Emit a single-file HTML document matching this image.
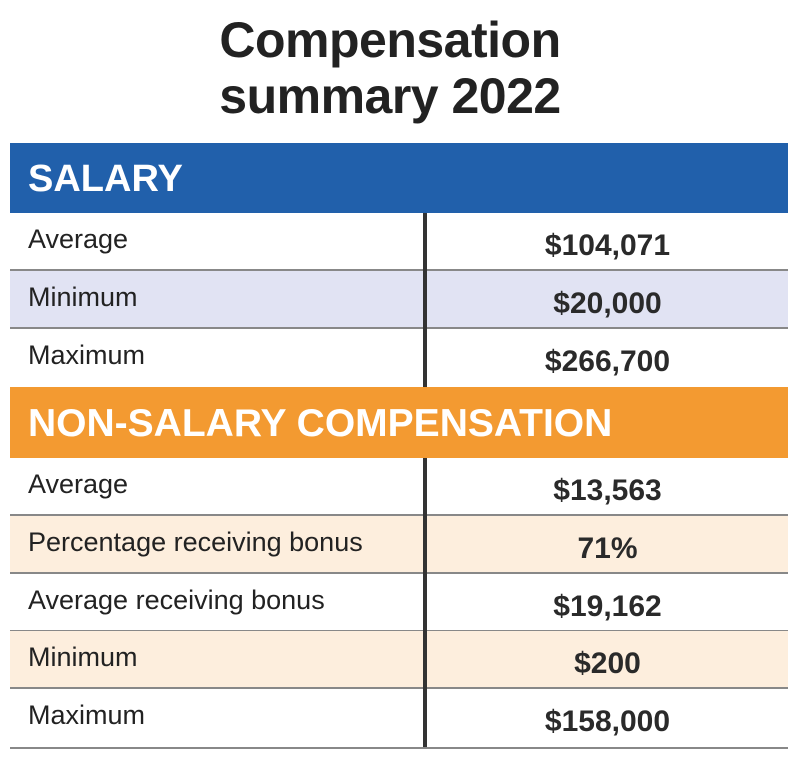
<!DOCTYPE html>
<html><head><meta charset="utf-8"><style>
body{margin:0;width:800px;height:758px;background:#fff;font-family:"Liberation Sans",Arial,sans-serif;position:relative;overflow:hidden;color:#222}
.t{position:absolute;left:0;width:780px;text-align:center;font-weight:bold;font-size:50px;color:#222;letter-spacing:-0.5px}
.hdr{position:absolute;left:10px;width:778px;color:#fff;font-weight:bold;font-size:38px;box-sizing:border-box;padding-left:18px}
.row{position:absolute;left:10px;width:778px;height:58px;border-bottom:2px solid #888;box-sizing:border-box}
.lab{position:absolute;left:18px;top:11px;font-size:27px;color:#222}
.val{position:absolute;left:417px;right:0;top:16px;text-align:center;font-size:30px;font-weight:bold;color:#2a2a2a}
.div{position:absolute;left:423px;width:4px;background:#333}
</style></head><body>
<div class="t" style="top:11px">Compensation</div>
<div class="t" style="top:67px">summary 2022</div>

<div class="hdr" style="top:143px;height:70px;line-height:72px;background:#2160ab">SALARY</div>
<div class="row" style="top:213px;background:#fff"><span class="lab">Average</span><span class="val">$104,071</span></div>
<div class="row" style="top:271px;background:#e1e3f3"><span class="lab">Minimum</span><span class="val">$20,000</span></div>
<div class="row" style="top:329px;background:#fff;border-bottom:none"><span class="lab">Maximum</span><span class="val">$266,700</span></div>
<div class="div" style="top:213px;height:174px"></div>

<div class="hdr" style="top:387px;height:71px;line-height:74px;font-size:39px;background:#f39a31">NON-SALARY COMPENSATION</div>
<div class="row" style="top:458px;background:#fff"><span class="lab">Average</span><span class="val">$13,563</span></div>
<div class="row" style="top:516px;background:#fdeedd"><span class="lab">Percentage receiving bonus</span><span class="val">71%</span></div>
<div class="row" style="top:574px;background:#fff"><span class="lab">Average receiving bonus</span><span class="val">$19,162</span></div>
<div class="row" style="top:631px;background:#fdeedd"><span class="lab">Minimum</span><span class="val">$200</span></div>
<div class="row" style="top:689px;background:#fff;height:60px"><span class="lab">Maximum</span><span class="val">$158,000</span></div>
<div class="div" style="top:458px;height:289px"></div>
</body></html>
